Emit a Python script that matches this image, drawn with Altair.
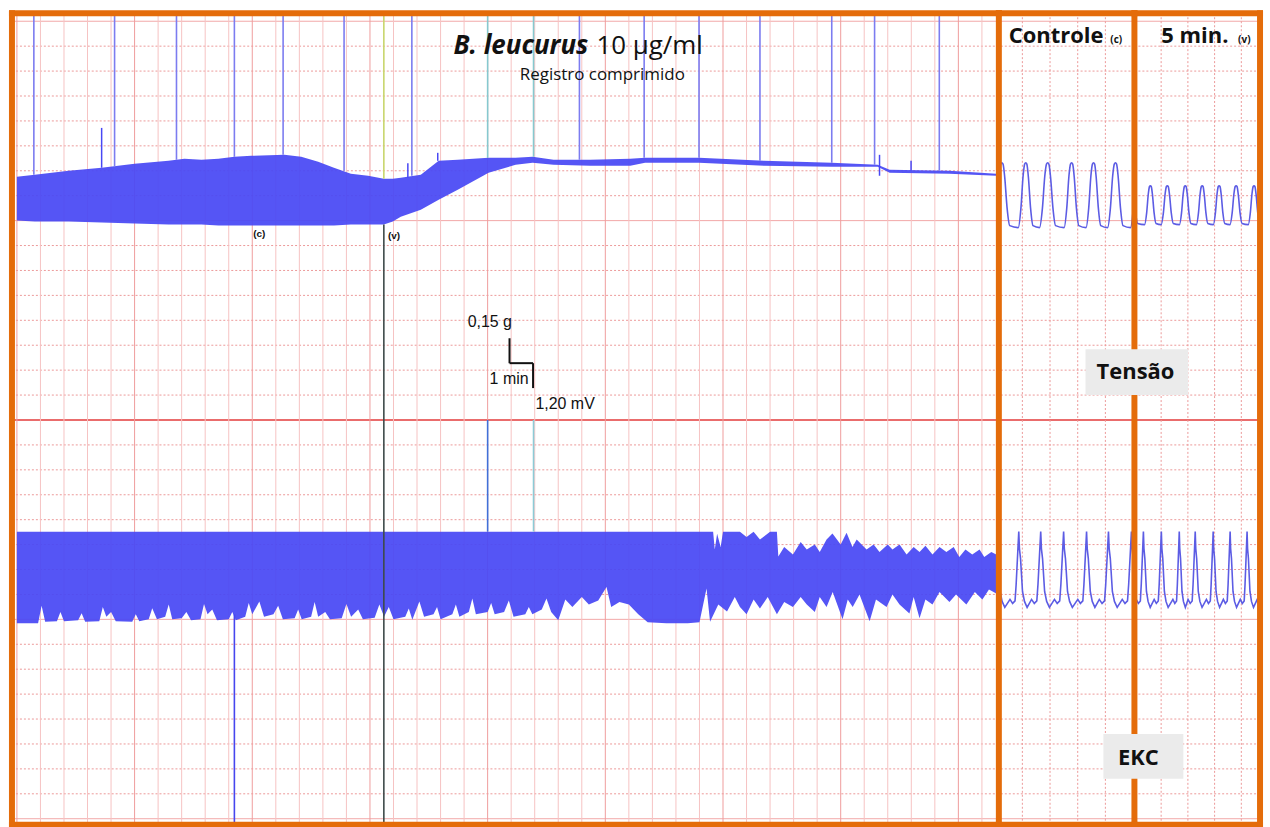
import altair as alt
import pandas as pd

BLUE = "#4848f4"
TRACE = "#5c5ce4"
ORANGE = "#e46c0a"
LABEL_FONT = "Open Sans"
SCALE_FONT = "Liberation Sans"

# Chart paper: one division = 0.15 g (upper channel) or 1.20 mV (lower channel)
Y_DOMAIN = [-0.24, 32.32]
PAPER_ROWS = list(range(0, 33))
MAIN_X_DOMAIN = [-0.21, 41.72]      # minutes, compressed record
PAPER_MINUTES = list(range(0, 42))
CTRL_X_DOMAIN = [0.15, 5.05]        # seconds, control strip
FIVE_X_DOMAIN = [0.0, 4.7]          # seconds, 5 min strip
INSET_SECONDS = [1, 2, 3, 4]

MAIN_W, CTRL_W, FIVE_W, PANEL_H = 990, 136, 126, 814

# ---- compressed tension record: envelope of the beat-to-beat oscillation ----
TENSION_T = [0.0, 0.76, 2.20, 3.60, 5.00, 6.44, 7.12, 7.84, 8.56, 9.24, 9.96, 11.36,
             12.08, 12.80, 13.47, 14.19, 14.92, 15.59, 15.97, 16.31, 17.16, 17.92,
             18.73, 20.04, 21.19, 21.91, 22.80, 24.36, 26.06, 26.69, 28.98, 31.74,
             34.62, 36.57, 37.08, 39.62, 41.61]
TENSION_TOP = [25.76, 25.84, 26.00, 26.12, 26.28, 26.40, 26.48, 26.44, 26.48, 26.56,
               26.60, 26.64, 26.56, 26.36, 26.12, 25.88, 25.80, 25.68, 25.68, 25.72,
               25.84, 26.40, 26.44, 26.52, 26.52, 26.56, 26.44, 26.44, 26.48, 26.52,
               26.52, 26.40, 26.32, 26.24, 26.04, 26.00, 25.88]
TENSION_BOTTOM = [24.00, 23.96, 23.96, 23.92, 23.88, 23.84, 23.84, 23.84, 23.80, 23.80,
                  23.80, 23.80, 23.80, 23.80, 23.80, 23.84, 23.84, 23.84, 23.96, 24.16,
                  24.44, 24.84, 25.24, 25.92, 26.24, 26.32, 26.24, 26.20, 26.20, 26.32,
                  26.32, 26.20, 26.16, 26.16, 25.92, 25.88, 25.80]
# isolated artefacts on the tension trace
SPIKE_T = [3.60, 16.61, 17.88, 36.65, 37.99]
SPIKE_BASE = [26.12, 25.72, 26.40, 25.80, 26.00]
SPIKE_TIP = [27.72, 26.30, 26.72, 26.64, 26.40]

# ---- compressed EKC record: upper and lower envelopes ----
EKC_MID = 9.9
EKC_TOP_T = [0.0, 29.58, 29.65, 29.75, 29.90, 30.00, 30.72, 31.00, 31.30, 31.57, 32.00,
             32.29, 32.35, 32.60, 32.97, 33.30, 33.56, 33.90, 34.11, 34.40, 34.65, 35.00,
             35.25, 35.50, 35.68, 36.10, 36.40, 36.65, 37.00, 37.20, 37.50, 37.80, 38.10,
             38.35, 38.60, 38.90, 39.20, 39.49, 39.80, 40.04, 40.30, 40.59, 40.90, 41.10,
             41.40, 41.61]
EKC_TOP = [11.52, 11.52, 10.80, 11.44, 10.90, 11.52, 11.52, 11.30, 11.52, 11.20, 11.52,
           11.52, 10.52, 10.90, 10.60, 11.10, 10.80, 11.00, 10.70, 11.20, 11.45, 11.00,
           11.48, 10.90, 11.20, 10.80, 11.00, 10.70, 11.00, 10.80, 11.00, 10.60, 10.90,
           10.70, 10.95, 10.60, 10.90, 10.70, 10.90, 10.50, 10.80, 10.60, 10.80, 10.50,
           10.70, 10.60]
# (minute, division) pairs along the lower edge of the EKC band
EKC_BOTTOM_POINTS = [
    (0.0, 7.84), (0.9, 7.84), (1.05, 8.55), (1.2, 7.90), (1.7, 7.92), (1.85, 8.30),
    (2.0, 7.92), (2.6, 7.96), (2.75, 8.25), (2.9, 7.90), (3.5, 7.92), (3.65, 8.50),
    (3.8, 8.10), (4.0, 8.30), (4.2, 7.92), (4.9, 7.90), (5.05, 8.20), (5.2, 7.92),
    (5.6, 8.00), (5.75, 8.45), (5.95, 8.00), (6.3, 8.10), (6.45, 8.60), (6.6, 8.00),
    (7.0, 8.04), (7.2, 8.30), (7.4, 7.96), (7.8, 8.00), (7.95, 8.62), (8.1, 8.20),
    (8.3, 8.40), (8.5, 7.96), (9.0, 8.00), (9.15, 8.30), (9.3, 7.96), (9.7, 8.10),
    (9.85, 8.66), (10.0, 8.20), (10.3, 8.72), (10.5, 8.10), (10.9, 8.20), (11.1, 8.55),
    (11.3, 8.00), (11.8, 8.04), (11.95, 8.40), (12.1, 8.00), (12.5, 8.10), (12.65, 8.70),
    (12.8, 8.10), (13.1, 8.30), (13.3, 8.00), (13.8, 8.04), (14.0, 8.62), (14.2, 8.10),
    (14.5, 8.40), (14.7, 8.00), (15.2, 8.06), (15.4, 8.60), (15.6, 8.10), (15.8, 8.50),
    (16.0, 8.00), (16.5, 8.10), (16.65, 8.44), (16.8, 7.98), (17.1, 8.72), (17.3, 8.10),
    (17.7, 8.20), (17.85, 8.50), (18.0, 8.00), (18.5, 8.20), (18.65, 8.60), (18.8, 8.10),
    (19.2, 8.30), (19.35, 8.84), (19.5, 8.20), (20.0, 8.30), (20.15, 8.66), (20.3, 8.20),
    (20.7, 8.30), (20.9, 8.76), (21.1, 8.10), (21.6, 8.20), (21.75, 8.50), (21.9, 8.20),
    (22.3, 8.40), (22.5, 8.84), (22.7, 8.30), (23.0, 7.96), (23.3, 8.80), (23.6, 8.50),
    (24.0, 8.90), (24.3, 8.60), (24.7, 8.76), (25.05, 9.30), (25.25, 8.50), (25.6, 8.70),
    (26.0, 8.60), (26.4, 8.20), (26.8, 7.88), (27.6, 7.84), (28.5, 7.84), (29.0, 7.88),
    (29.3, 9.24), (29.45, 7.90), (29.8, 8.60), (30.17, 8.32), (30.5, 8.90), (30.72, 8.50),
    (31.0, 8.20), (31.3, 8.80), (31.57, 8.44), (31.9, 8.90), (32.29, 8.20), (32.6, 8.70),
    (32.97, 8.50), (33.3, 8.90), (33.56, 8.60), (33.9, 8.30), (34.11, 8.90), (34.4, 8.50),
    (34.66, 9.10), (35.08, 8.00), (35.3, 8.80), (35.51, 8.50), (35.8, 9.00), (36.23, 7.92),
    (36.5, 8.80), (36.95, 8.50), (37.2, 9.00), (37.5, 8.60), (37.92, 8.24), (38.1, 8.90),
    (38.35, 8.04), (38.6, 8.80), (38.9, 8.60), (39.2, 9.10), (39.62, 8.70), (39.9, 9.00),
    (40.34, 8.60), (40.7, 9.10), (41.02, 8.80), (41.3, 9.20), (41.61, 9.04),
]

# ---- event marks on the compressed record ----
EVENT_T = [0.72, 4.15, 6.78, 9.24, 11.31, 13.90, 16.78, 20.00, 21.95, 23.90, 26.65,
           28.98, 31.57, 34.62, 36.44, 39.19]
EVENT_END = [25.84, 26.16, 26.44, 26.56, 26.64, 26.00, 25.80, 26.52, 26.56, 26.44,
             26.52, 26.52, 26.40, 26.32, 26.24, 26.00]
EVENT_COLOR = ["#7c7cf0"] * 7 + ["#86c9cf", "#86c9cf"] + ["#7c7cf0"] * 7
MARK_T = 15.59                      # (v) instant
LOWER_EVENTS_T = [20.00, 21.95, 9.24]
LOWER_EVENTS_TOP = [16.0, 16.0, 8.20]
LOWER_EVENTS_END = [11.52, 11.52, -0.24]
LOWER_EVENTS_COLOR = ["#4170d8", "#8ccbd6", "#4646ee"]

TENSION_PHASE = [-0.34, -0.22, -0.12, -0.05, 0.0, 0.05, 0.12, 0.22, 0.33]
TENSION_LEVEL = [0.0, 0.30, 0.80, 0.98, 1.0, 0.98, 0.78, 0.30, 0.03]
EKC_PHASE = [-0.40, -0.28, -0.17, -0.12, -0.045, 0.0, 0.03, 0.08, 0.17, 0.26, 0.38]
EKC_VALUE = [8.80, 8.64, 8.74, 9.40, 10.72, 11.52, 10.84, 10.44, 9.12, 8.72, 8.48]

CTRL_TENSION_PEAKS = [-0.571, 0.258, 1.122, 1.915, 2.779, 3.572, 4.364, 5.193]
CTRL_TENSION_RANGE = [23.72, 26.32]
CTRL_EKC_SPIKES = [0.056, 0.870, 1.663, 2.491, 3.320, 4.112, 4.941]
FIVE_TENSION_PEAKS = [-0.112, 0.597, 1.231, 1.902, 2.536, 3.170, 3.805, 4.476, 5.11]
FIVE_TENSION_RANGE = [23.84, 25.40]
FIVE_EKC_SPIKES = [-0.336, 0.336, 1.007, 1.678, 2.275, 2.947, 3.581, 4.215, 4.849]

# ---- calibration bar ----
BAR_T0 = 20.93
BAR_MIN = 1.0                       # 1 min
BAR_Y0 = 18.28
BAR_G = 1.0                         # 0.15 g
BAR_MV = 1.0                        # 1.20 mV


def xscale(dom):
    return alt.Scale(domain=dom, nice=False, zero=False)


YS = alt.Scale(domain=Y_DOMAIN, nice=False, zero=False)


def Y(field):
    return alt.Y(field, scale=YS, axis=None)


def paper_rows():
    base = alt.Chart(pd.DataFrame({"row": PAPER_ROWS}))
    dotted = base.transform_filter("datum.row % 8 != 0").mark_rule(
        color="#ec9a9a", strokeWidth=1, strokeDash=[2, 2]).encode(y=Y("row:Q"))
    major = base.transform_filter("datum.row % 8 == 0 && datum.row != 16").mark_rule(
        color="#f2a8a8", strokeWidth=1).encode(y=Y("row:Q"))
    split = base.transform_filter("datum.row == 16").mark_rule(
        color="#ea6c6c", strokeWidth=2).encode(y=Y("row:Q"))
    return [dotted, major, split]


def main_columns(X):
    base = alt.Chart(pd.DataFrame({"m": PAPER_MINUTES}))
    minor = base.transform_filter("datum.m % 5 != 0").mark_rule(
        color="#f6c3c3", strokeWidth=1).encode(x=X("m:Q"))
    major = base.transform_filter("datum.m % 5 == 0").mark_rule(
        color="#ef9d9d", strokeWidth=1).encode(x=X("m:Q"))
    return [minor, major]


def inset_columns(X):
    return [alt.Chart(pd.DataFrame({"s": INSET_SECONDS})).mark_rule(
        color="#ec9a9a", strokeWidth=1, strokeDash=[2, 2]).encode(x=X("s:Q"))]


def borders(X, edges):
    rows = alt.Chart(pd.DataFrame({"y": [Y_DOMAIN[0], Y_DOMAIN[1]]})).mark_rule(
        color=ORANGE, strokeWidth=6, strokeCap="square").encode(y=Y("y:Q"))
    cols = alt.Chart(pd.DataFrame({"x": edges})).mark_rule(
        color=ORANGE, strokeWidth=6, strokeCap="square").encode(x=X("x:Q"))
    return [rows, cols]


def text_layer(X, df, size, weight="normal", style="normal", align="left",
               font=LABEL_FONT, color="#111111"):
    return alt.Chart(df).mark_text(
        align=align, baseline="middle", fontSize=size, fontWeight=weight,
        fontStyle=style, font=font, color=color).encode(
        x=X("x:Q"), y=Y("y:Q"), text="label:N")


def beat_rows(times, phases, values):
    rows = []
    for i, t in enumerate(times):
        rr = times[i + 1] - t if i + 1 < len(times) else t - times[i - 1]
        for ph, v in zip(phases, values):
            rows.append({"t": t + ph * rr, "v": v})
    return pd.DataFrame(rows)


def levels(rng):
    lo, hi = rng
    return [lo + lv * (hi - lo) for lv in TENSION_LEVEL]


# ================= compressed record =================
def MX(f):
    return alt.X(f, scale=xscale(MAIN_X_DOMAIN), axis=None)


tension_df = pd.DataFrame({"t": TENSION_T, "top": TENSION_TOP, "bottom": TENSION_BOTTOM})
tension_band = alt.Chart(tension_df).mark_area(color=BLUE, opacity=0.93).encode(
    x=MX("t:Q"), y=Y("top:Q"), y2="bottom:Q")
spikes = alt.Chart(pd.DataFrame({"t": SPIKE_T, "b": SPIKE_BASE, "tip": SPIKE_TIP})).mark_rule(
    color=BLUE, strokeWidth=1.5).encode(x=MX("t:Q"), y=Y("b:Q"), y2="tip:Q")

ekc_upper = alt.Chart(pd.DataFrame({"t": EKC_TOP_T, "v": EKC_TOP})).mark_area(
    color=BLUE, opacity=0.93).encode(x=MX("t:Q"), y=Y("v:Q"), y2=alt.datum(EKC_MID))
ekc_lower = alt.Chart(pd.DataFrame(EKC_BOTTOM_POINTS, columns=["t", "v"])).mark_area(
    color=BLUE, opacity=0.93).encode(x=MX("t:Q"), y=Y("v:Q"), y2=alt.datum(EKC_MID))

events = alt.Chart(pd.DataFrame({
    "t": EVENT_T, "top": [Y_DOMAIN[1]] * len(EVENT_T), "end": EVENT_END, "c": EVENT_COLOR
})).mark_rule(strokeWidth=1.6).encode(
    x=MX("t:Q"), y=Y("top:Q"), y2="end:Q", color=alt.Color("c:N", scale=None))
lower_events = alt.Chart(pd.DataFrame({
    "t": LOWER_EVENTS_T, "top": LOWER_EVENTS_TOP, "end": LOWER_EVENTS_END, "c": LOWER_EVENTS_COLOR
})).mark_rule(strokeWidth=1.6).encode(
    x=MX("t:Q"), y=Y("top:Q"), y2="end:Q", color=alt.Color("c:N", scale=None))
mark_lines = alt.Chart(pd.DataFrame({
    "t": [MARK_T, MARK_T], "top": [Y_DOMAIN[1], 23.84], "end": [25.68, Y_DOMAIN[0]],
    "c": ["#c8d66c", "#3e4b4a"]
})).mark_rule(strokeWidth=1.6).encode(
    x=MX("t:Q"), y=Y("top:Q"), y2="end:Q", color=alt.Color("c:N", scale=None))

bar = alt.Chart(pd.DataFrame({
    "x": [BAR_T0, BAR_T0, BAR_T0 + BAR_MIN],
    "x2": [BAR_T0, BAR_T0 + BAR_MIN, BAR_T0 + BAR_MIN],
    "y": [BAR_Y0 + BAR_G, BAR_Y0, BAR_Y0],
    "y2": [BAR_Y0, BAR_Y0, BAR_Y0 - BAR_MV],
})).mark_rule(color="#111111", strokeWidth=2).encode(
    x=MX("x:Q"), x2="x2:Q", y=Y("y:Q"), y2="y2:Q")

main_texts = [
    text_layer(MX, pd.DataFrame({"x": [24.28], "y": [31.0], "label": ["B. leucurus"]}),
               26, weight="bold", style="italic", align="right"),
    text_layer(MX, pd.DataFrame({"x": [24.62], "y": [31.0], "label": ["10 μg/ml"]}), 26),
    text_layer(MX, pd.DataFrame({"x": [24.87], "y": [29.84], "label": ["Registro comprimido"]}),
               17, align="center"),
    text_layer(MX, pd.DataFrame({"x": [10.30, 16.02], "y": [23.48, 23.40], "label": ["(c)", "(v)"]}),
               10, weight="bold", align="center", font=SCALE_FONT),
    text_layer(MX, pd.DataFrame({"x": [19.15], "y": [19.92], "label": ["0,15 g"]}),
               16, font=SCALE_FONT),
    text_layer(MX, pd.DataFrame({"x": [21.74], "y": [17.64], "label": ["1 min"]}),
               16, align="right", font=SCALE_FONT),
    text_layer(MX, pd.DataFrame({"x": [22.03], "y": [16.64], "label": ["1,20 mV"]}),
               16, font=SCALE_FONT),
]

main = alt.layer(
    *paper_rows(), *main_columns(MX),
    tension_band, spikes, ekc_upper, ekc_lower,
    events, lower_events, mark_lines, bar, *main_texts,
    *borders(MX, [MAIN_X_DOMAIN[0]]),
).properties(width=MAIN_W, height=PANEL_H)


# ================= control strip =================
def CX(f):
    return alt.X(f, scale=xscale(CTRL_X_DOMAIN), axis=None)


ctrl_tension = alt.Chart(beat_rows(CTRL_TENSION_PEAKS, TENSION_PHASE, levels(CTRL_TENSION_RANGE))).mark_line(
    color=TRACE, strokeWidth=1.6, interpolate="monotone", clip=True).encode(x=CX("t:Q"), y=Y("v:Q"))
ctrl_ekc = alt.Chart(beat_rows(CTRL_EKC_SPIKES, EKC_PHASE, EKC_VALUE)).mark_line(
    color=TRACE, strokeWidth=1.6, clip=True).encode(x=CX("t:Q"), y=Y("v:Q"))
ctrl_texts = [
    text_layer(CX, pd.DataFrame({"x": [0.51], "y": [31.4], "label": ["Controle"]}), 22, weight="bold"),
    text_layer(CX, pd.DataFrame({"x": [4.18], "y": [31.24], "label": ["(c)"]}), 10, weight="bold"),
]
ctrl = alt.layer(
    *paper_rows(), *inset_columns(CX), ctrl_tension, ctrl_ekc, *ctrl_texts,
    *borders(CX, [CTRL_X_DOMAIN[0]]),
).properties(width=CTRL_W, height=PANEL_H)


# ================= 5 min strip =================
def FX(f):
    return alt.X(f, scale=xscale(FIVE_X_DOMAIN), axis=None)


five_tension = alt.Chart(beat_rows(FIVE_TENSION_PEAKS, TENSION_PHASE, levels(FIVE_TENSION_RANGE))).mark_line(
    color=TRACE, strokeWidth=1.6, interpolate="monotone", clip=True).encode(x=FX("t:Q"), y=Y("v:Q"))
five_ekc = alt.Chart(beat_rows(FIVE_EKC_SPIKES, EKC_PHASE, EKC_VALUE)).mark_line(
    color=TRACE, strokeWidth=1.6, clip=True).encode(x=FX("t:Q"), y=Y("v:Q"))
five_texts = [
    text_layer(FX, pd.DataFrame({"x": [1.007], "y": [31.4], "label": ["5 min."]}), 22, weight="bold"),
    text_layer(FX, pd.DataFrame({"x": [3.88], "y": [31.24], "label": ["(v)"]}), 10, weight="bold"),
]
# channel captions sit over the divider between the two strips
caption_boxes = alt.Chart(pd.DataFrame({
    "x": [-1.83, -1.16], "x2": [2.01, 1.83], "y": [18.84, 3.40], "y2": [17.00, 1.60]
})).mark_rect(color="#ebebeb").encode(x=FX("x:Q"), x2="x2:Q", y=Y("y:Q"), y2="y2:Q")
captions = text_layer(FX, pd.DataFrame({
    "x": [0.04, 0.15], "y": [17.92, 2.44], "label": ["Tensão", "EKC"]
}), 22, weight="bold", align="center")

five = alt.layer(
    *paper_rows(), *inset_columns(FX), five_tension, five_ekc, *five_texts,
    *borders(FX, [FIVE_X_DOMAIN[0], FIVE_X_DOMAIN[1]]),
    caption_boxes, captions,
).properties(width=FIVE_W, height=PANEL_H)

chart = alt.hconcat(
    main, ctrl, five, spacing=0, bounds="flush",
    padding={"left": 7, "top": 7, "right": 5, "bottom": 0},
    background="white",
).configure_view(strokeWidth=0)

chart.save("out.html", embed_options={"renderer": "svg", "actions": False})
